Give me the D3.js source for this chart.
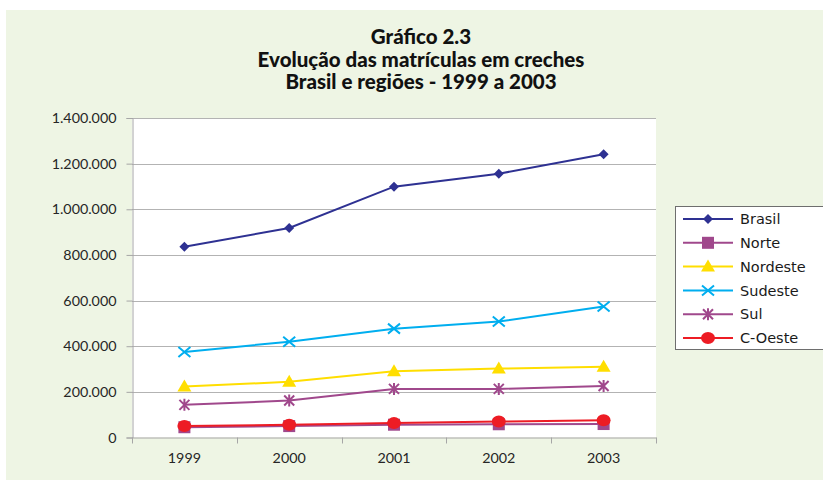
<!DOCTYPE html>
<html>
<head>
<meta charset="utf-8">
<script src="https://cdn.jsdelivr.net/npm/d3@7"></script>
<style>
  html, body { margin: 0; padding: 0; background: #ffffff; }
  svg { display: block; }
</style>
</head>
<body>
<svg id="chart" width="823" height="481"></svg>
<script>
// Matrículas em creches, Brasil e regiões, 1999–2003
const years = ["1999", "2000", "2001", "2002", "2003"];
const brasil   = [836000, 918000, 1099000, 1156000, 1241000];
const norte    = [45000, 50000, 56000, 58000, 59000];
const nordeste = [223000, 244000, 290000, 302000, 310000];
const sudeste  = [375000, 420000, 477000, 508000, 574000];
const sul      = [143000, 162000, 213000, 213000, 226000];
const cOeste   = [50000, 56000, 63000, 70000, 76000];
const yTicks   = [0, 200000, 400000, 600000, 800000, 1000000, 1200000, 1400000];
const titleLines = ["Gráfico 2.3", "Evolução das matrículas em creches", "Brasil e regiões - 1999 a 2003"];

const series = [
  { name: "Brasil",   values: brasil,   color: "#2e3192", marker: "diamond" },
  { name: "Norte",    values: norte,    color: "#a0488c", marker: "square" },
  { name: "Nordeste", values: nordeste, color: "#ffde00", marker: "triangle" },
  { name: "Sudeste",  values: sudeste,  color: "#00aeef", marker: "x" },
  { name: "Sul",      values: sul,      color: "#a0488c", marker: "star" },
  { name: "C-Oeste",  values: cOeste,   color: "#ed1c24", marker: "circle" }
];

const font = "Lato, 'Open Sans', sans-serif";
const legendFont = "'DejaVu Sans', Verdana, sans-serif";
const svg = d3.select("#chart");

// chart background panel
svg.append("rect").attr("x", 6).attr("y", 10).attr("width", 830).attr("height", 470)
  .attr("fill", "#eef5e4");

// title
svg.append("g").selectAll("text").data(titleLines).join("text")
  .attr("x", 421).attr("y", (d, i) => 44 + i * 22.5)
  .attr("text-anchor", "middle")
  .attr("font-family", font).attr("font-weight", "900").attr("font-size", 20.5)
  .attr("fill", "#111111")
  .text(d => d);

const plot = { left: 132, right: 656, top: 118, bottom: 437.5 };

const x = d3.scaleBand().domain(years).range([plot.left, plot.right]).padding(0);
const y = d3.scaleLinear().domain([0, 1400000]).range([plot.bottom, plot.top]);

// plot area
svg.append("rect").attr("x", plot.left).attr("y", plot.top)
  .attr("width", plot.right - plot.left).attr("height", plot.bottom - plot.top)
  .attr("fill", "#ffffff");

// horizontal gridlines
svg.append("g").selectAll("line").data(yTicks.filter(v => v > 0)).join("line")
  .attr("x1", plot.left).attr("x2", plot.right)
  .attr("y1", d => Math.round(y(d)) + 0.5).attr("y2", d => Math.round(y(d)) + 0.5)
  .attr("stroke", "#b3b3b3").attr("stroke-width", 1);

const fmt = v => v === 0 ? "0" : d3.format(",")(v).replace(/,/g, ".");

// y axis
const yAxis = svg.append("g").attr("transform", `translate(${plot.left + 0.5},0)`)
  .call(d3.axisLeft(y).tickValues(yTicks).tickFormat(fmt).tickSize(6).tickPadding(10));
yAxis.select(".domain").attr("stroke", "#a6a6a6");
yAxis.selectAll(".tick line").attr("stroke", "#a6a6a6");
yAxis.selectAll(".tick text").attr("font-family", font).attr("font-size", 14.3).attr("fill", "#262626");

// x axis, ticks between categories
const xAxis = svg.append("g").attr("transform", `translate(0,${plot.bottom})`)
  .call(d3.axisBottom(x).tickSize(0).tickPadding(15));
xAxis.select(".domain").attr("stroke", "#a6a6a6");
xAxis.selectAll(".tick text").attr("font-family", font).attr("font-size", 14.3).attr("fill", "#262626");
xAxis.selectAll("line.sep").data(years.concat(["end"])).join("line").attr("class", "sep")
  .attr("x1", (d, i) => Math.round(plot.left + i * x.bandwidth()) + 0.5)
  .attr("x2", (d, i) => Math.round(plot.left + i * x.bandwidth()) + 0.5)
  .attr("y1", 0).attr("y2", 6)
  .attr("stroke", "#a6a6a6");

// marker drawing
function drawMarker(g, type, color) {
  switch (type) {
    case "diamond":
      g.append("path").attr("d", "M0,-5L5,0L0,5L-5,0Z").attr("fill", color);
      break;
    case "square":
      g.append("rect").attr("x", -6).attr("y", -6).attr("width", 12).attr("height", 12).attr("fill", color);
      break;
    case "triangle":
      g.append("path").attr("d", "M0,-7L7,5L-7,5Z").attr("fill", color);
      break;
    case "x":
      g.append("path").attr("d", "M-6,-5L6,5M-6,5L6,-5").attr("stroke", color).attr("stroke-width", 2).attr("fill", "none");
      break;
    case "star":
      g.append("path").attr("d", "M-5,-5L5,5M-5,5L5,-5M0,-6L0,6").attr("stroke", color).attr("stroke-width", 2).attr("fill", "none");
      break;
    case "circle":
      g.append("ellipse").attr("rx", 7).attr("ry", 6).attr("fill", color);
      break;
  }
}

const line = d3.line().x((d, i) => x(years[i]) + x.bandwidth() / 2).y(d => y(d));

// draw lines/markers bottom-up so Brasil sits on top
const drawOrder = ["Norte", "C-Oeste", "Sul", "Nordeste", "Sudeste", "Brasil"];
drawOrder.forEach(name => {
  const s = series.find(d => d.name === name);
  const g = svg.append("g");
  g.append("path").datum(s.values).attr("d", line)
    .attr("fill", "none").attr("stroke", s.color).attr("stroke-width", 2);
  s.values.forEach((v, i) => {
    const mg = g.append("g").attr("transform", `translate(${x(years[i]) + x.bandwidth() / 2},${y(v)})`);
    drawMarker(mg, s.marker, s.color);
  });
});

// legend
const lg = svg.append("g");
lg.append("rect").attr("x", 675.5).attr("y", 206.5).attr("width", 160).attr("height", 143)
  .attr("fill", "#ffffff").attr("stroke", "#6e6e6e").attr("stroke-width", 1);
series.forEach((s, i) => {
  const yy = 219 + i * 23.8;
  lg.append("line").attr("x1", 683).attr("x2", 733).attr("y1", yy).attr("y2", yy)
    .attr("stroke", s.color).attr("stroke-width", 2);
  const mg = lg.append("g").attr("transform", `translate(708,${yy})`);
  drawMarker(mg, s.marker, s.color);
  lg.append("text").attr("x", 740).attr("y", yy).attr("dy", "0.36em")
    .attr("font-family", legendFont).attr("font-size", 14.5).attr("fill", "#1a1a1a")
    .text(s.name);
});
</script>
</body>
</html>
